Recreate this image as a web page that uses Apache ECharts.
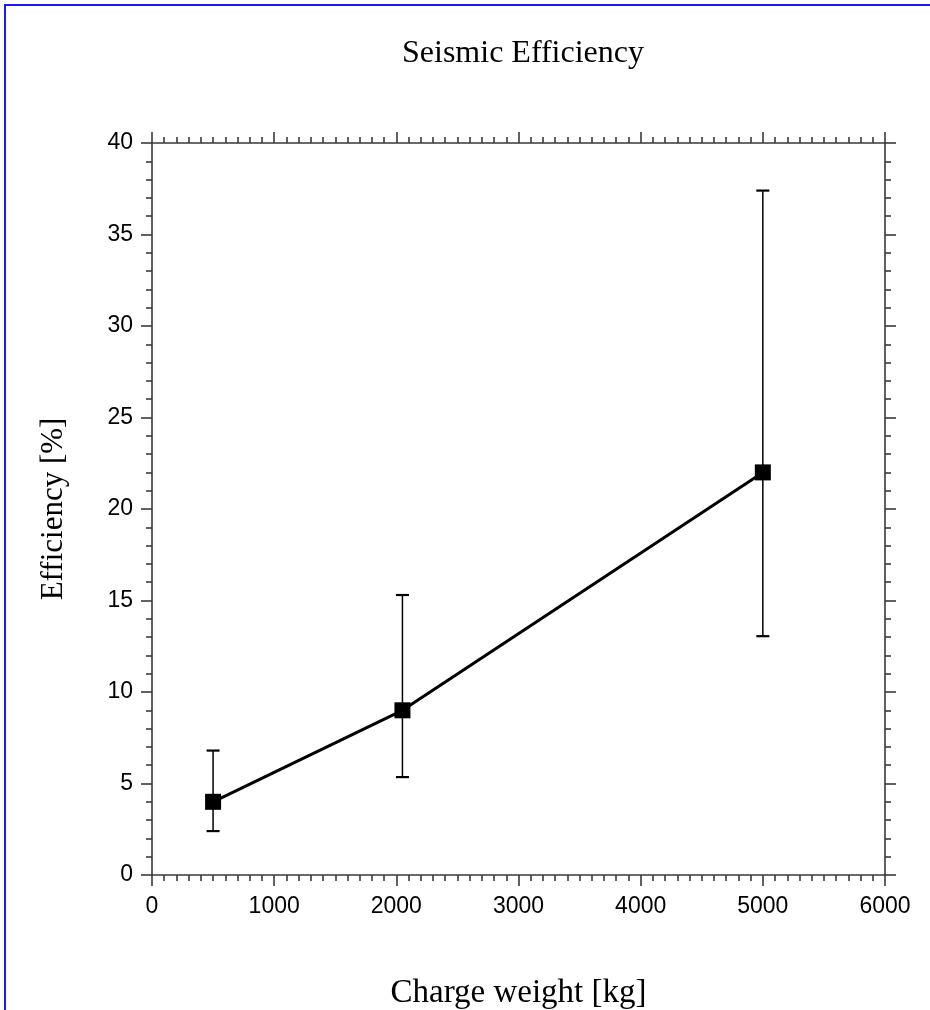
<!DOCTYPE html>
<html><head><meta charset="utf-8">
<script src="https://cdn.jsdelivr.net/npm/echarts@6/dist/echarts.min.js"></script>
<style>
html,body{margin:0;padding:0;width:930px;height:1010px;overflow:hidden;background:#fff;}
#frame{position:absolute;left:4px;top:4px;width:1000px;height:1100px;border-left:2px solid #1a1aff;border-top:2px solid #1a1aff;}
#chart{position:absolute;left:0;top:0;width:930px;height:1010px;}
</style></head>
<body><div id="frame"></div><div id="chart"></div>
<script>
const chargeWeight = [500, 2050, 5000];
const efficiency = [4, 9, 22];
const errLow = [2.4, 5.35, 13.05];
const errHigh = [6.8, 15.3, 37.4];
const xTicks = {min: 0, max: 6000, interval: 1000};
const yTicks = {min: 0, max: 40, interval: 5};

const chart = echarts.init(document.getElementById('chart'));
const axisColor = '#3a3a3a';
const tickFont = {fontFamily: 'Liberation Sans', fontSize: 23, color: '#000'};
const plain = v => String(v);
function baseAxis(extra) {
  return Object.assign({
    type: 'value',
    axisLine: {show: true, onZero: false, lineStyle: {color: axisColor, width: 1.6}},
    axisTick: {show: true, inside: false, length: 11, lineStyle: {color: axisColor, width: 1.6}},
    splitLine: {show: false},
  }, extra);
}
const lineData = chargeWeight.map((x, i) => [x, efficiency[i]]);
const errData = chargeWeight.map((x, i) => [x, errLow[i], errHigh[i]]);
const minorX = {show: true, splitNumber: 10, length: 6, lineStyle: {color: axisColor, width: 1.6}};
const minorY = {show: true, splitNumber: 5, length: 6, lineStyle: {color: axisColor, width: 1.6}};

chart.setOption({
  animation: false,
  backgroundColor: 'transparent',
  grid: {left: 152, right: 45, top: 143, bottom: 135, outerBoundsMode: 'none', containLabel: false},
  title: {text: 'Seismic Efficiency', left: 518, textAlign: 'center', top: 33,
    textStyle: {fontFamily: 'Liberation Serif', fontSize: 32, fontWeight: 'normal', color: '#000'}},
  xAxis: [
    baseAxis({position: 'bottom', min: xTicks.min, max: xTicks.max, interval: xTicks.interval,
      minorTick: minorX,
      axisLabel: Object.assign({margin: 20, formatter: plain}, tickFont),
      name: 'Charge weight [kg]', nameLocation: 'middle', nameGap: 102,
      nameTextStyle: {fontFamily: 'Liberation Serif', fontSize: 33, color: '#000'}}),
    baseAxis({position: 'top', min: xTicks.min, max: xTicks.max, interval: xTicks.interval,
      minorTick: minorX, axisLabel: {show: false}})
  ],
  yAxis: [
    baseAxis({position: 'left', min: yTicks.min, max: yTicks.max, interval: yTicks.interval,
      minorTick: minorY,
      axisLabel: Object.assign({margin: 19, formatter: plain}, tickFont),
      name: 'Efficiency [%]', nameLocation: 'middle', nameGap: 83, nameRotate: 90,
      nameTextStyle: {fontFamily: 'Liberation Serif', fontSize: 31, color: '#000'}}),
    baseAxis({position: 'right', min: yTicks.min, max: yTicks.max, interval: yTicks.interval,
      minorTick: minorY, axisLabel: {show: false}})
  ],
  series: [
    {
      type: 'custom', xAxisIndex: 0, yAxisIndex: 0, z: 1,
      data: errData,
      renderItem: function (params, api) {
        const x = api.value(0);
        const lo = api.coord([x, api.value(1)]);
        const hi = api.coord([x, api.value(2)]);
        const hw = 6.5;
        return {type: 'group', children: [
          {type: 'line', shape: {x1: lo[0], y1: lo[1], x2: hi[0], y2: hi[1]}, style: {stroke: '#000', lineWidth: 1.5}},
          {type: 'line', shape: {x1: lo[0]-hw, y1: lo[1], x2: lo[0]+hw, y2: lo[1]}, style: {stroke: '#000', lineWidth: 2.2}},
          {type: 'line', shape: {x1: hi[0]-hw, y1: hi[1], x2: hi[0]+hw, y2: hi[1]}, style: {stroke: '#000', lineWidth: 2.2}}
        ]};
      }
    },
    {
      type: 'line', xAxisIndex: 0, yAxisIndex: 0, z: 3,
      data: lineData,
      symbol: 'rect', symbolSize: 16,
      itemStyle: {color: '#000'},
      lineStyle: {color: '#000', width: 3}
    }
  ]
});
</script></body></html>
